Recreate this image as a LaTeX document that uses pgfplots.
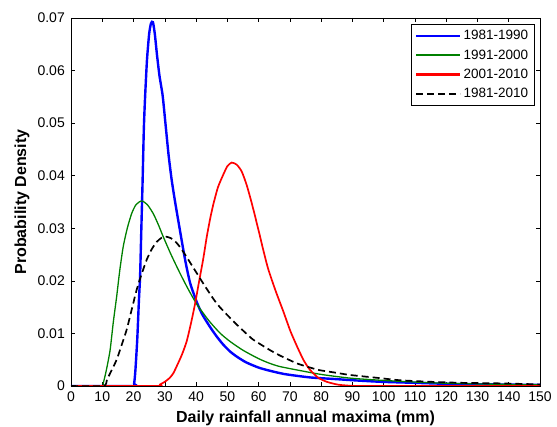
\documentclass[border=0pt]{standalone}
\usepackage{fontspec}
\setmainfont{Liberation Sans}
\usepackage{pgfplots}
\pgfplotsset{compat=1.18}
\definecolor{mgreen}{RGB}{0,128,0}
\definecolor{mred}{RGB}{255,0,0}
\definecolor{mblue}{RGB}{0,0,255}
\begin{document}
\begin{tikzpicture}
\begin{axis}[
  scale only axis,
  width=469pt, height=368pt,
  xmin=0, xmax=150, ymin=0, ymax=0.07,
  xtick={0,10,...,150},
  ytick={0,0.01,0.02,0.03,0.04,0.05,0.06,0.07},
  yticklabels={0,0.01,0.02,0.03,0.04,0.05,0.06,0.07},
  scaled y ticks=false,
  /pgf/number format/assume math mode=true,
  tick label style={font=\fontsize{14}{16}\selectfont, inner sep=1pt},
  xticklabel style={yshift=-5pt},
  yticklabel style={xshift=-5pt},
  tick align=inside,
  major tick length=4pt,
  axis line style={line width=0.6pt},
  every tick/.style={line width=0.6pt, black},
  xlabel={Daily rainfall annual maxima (mm)},
  ylabel={Probability Density},
  label style={font=\fontsize{16}{18}\selectfont\bfseries},
  xlabel style={at={(axis description cs:0.5,-0.087)}, anchor=center},
  ylabel style={at={(axis description cs:-0.1045,0.5)}, anchor=center},
  legend cell align=left,
  legend style={at={(axis description cs:0.988,0.984)}, anchor=north east,
    font=\fontsize{13.5}{15}\selectfont,
    draw=black, line width=0.6pt, row sep=4.5pt, inner xsep=4pt, inner ysep=4pt},
]
\addlegendimage{legend image code/.code={\draw[draw=mblue, line width=2.2pt] (0pt,0pt) -- (44pt,0pt);}}
\addlegendentry{1981-1990}
\addlegendimage{legend image code/.code={\draw[draw=mgreen, line width=2.2pt] (0pt,0pt) -- (44pt,0pt);}}
\addlegendentry{1991-2000}
\addlegendimage{legend image code/.code={\draw[draw=mred, line width=2.2pt] (0pt,0pt) -- (44pt,0pt);}}
\addlegendentry{2001-2010}
\addlegendimage{legend image code/.code={\draw[draw=black, line width=2.2pt, dash pattern=on 7pt off 4pt] (0pt,0pt) -- (44pt,0pt);}}
\addlegendentry{1981-2010}
\addplot[mblue, line width=2.4pt, smooth, tension=0.4, forget plot] coordinates {
(0,0) (19.8,0) (20.2,0.0005) (20.6,0.003) (21.2,0.009) (21.7,0.016) (22.1,0.021)
(22.5,0.030) (22.9,0.039) (23.3,0.049) (23.7,0.055) (24.3,0.062) (25.0,0.067)
(25.6,0.069) (26.2,0.0692) (26.8,0.067) (27.5,0.063) (28.3,0.059) (29.3,0.0553)
(30.1,0.0506) (31.2,0.044) (32.2,0.0392) (33.3,0.035) (34.5,0.0308) (36.5,0.0240)
(38.1,0.0196) (40.2,0.0160) (42,0.0136) (44.5,0.0112) (46.5,0.0095) (48.5,0.0080)
(50.8,0.0066) (53,0.0056) (56,0.0045) (60,0.0035) (63.6,0.0029) (68,0.0023)
(72.7,0.0019) (77,0.0016) (85,0.0013) (90,0.0011) (99,0.0008) (110,0.0006)
(121,0.0004) (135,0.0003) (150,0.0002)
};
\addplot[mgreen, line width=1.3pt, smooth, tension=0.4, forget plot] coordinates {
(0,0) (9.8,0) (10.3,0.0005) (11.3,0.003) (12.5,0.0068) (13.5,0.012) (14.6,0.017)
(15.6,0.022) (16.7,0.0265) (18,0.030) (19.4,0.0328) (20.8,0.0345) (22.6,0.0352)
(24.4,0.0345) (26.3,0.0328) (28,0.0306) (29.5,0.0284) (32,0.0250) (34.9,0.0214)
(37.5,0.0184) (40.2,0.0156) (44,0.0125) (47.6,0.0101) (50.8,0.0085)
(55,0.0068) (60,0.0052) (63.6,0.0043) (66.8,0.0037) (72.7,0.0030) (80,0.0022)
(89.2,0.0015) (98.8,0.0011) (105,0.0009) (115.8,0.0006) (130,0.0004) (150,0.0002)
};
\addplot[mred, line width=1.7pt, smooth, tension=0.4, forget plot] coordinates {
(0,0) (27,0) (28.5,0.0003) (30,0.0008) (31.5,0.0015) (32.7,0.0024) (34,0.0040)
(35.5,0.006) (37.0,0.0085) (38.4,0.012) (39.7,0.0157) (41,0.020) (42.3,0.0242)
(43.4,0.0283) (44.5,0.0318) (45.5,0.0345) (47,0.0378) (48.7,0.0402) (50,0.0418)
(51.4,0.0425) (53,0.0421) (54.6,0.0408) (56.2,0.0382) (57.8,0.0348) (59.2,0.0315)
(60.4,0.0286) (61.6,0.0256) (63.1,0.0222) (65.5,0.0180) (67.9,0.0142) (70.2,0.0104)
(72.7,0.0070) (74.5,0.0048) (76.4,0.0031) (79,0.0016) (81.8,0.0008) (85,0.0003)
(88,0.0001) (95,0) (150,0)
};
\addplot[black, line width=1.7pt, dash pattern=on 7pt off 4pt, smooth, tension=0.4, forget plot] coordinates {
(0,0) (10.3,0) (11.5,0.0012) (13,0.003) (14.6,0.005) (16.2,0.0078) (17.8,0.0107)
(19.4,0.0145) (21.0,0.0183) (22.6,0.0213) (24.2,0.024) (25.8,0.026) (27.4,0.0274)
(29,0.0282) (30.4,0.0284) (32,0.0281) (33.5,0.0274) (34.9,0.0264) (36.8,0.0247)
(38.6,0.0230) (40.5,0.0212) (42.3,0.0195) (45.5,0.0166) (47.6,0.0150) (50.8,0.0130)
(53.5,0.0114) (56.2,0.0099) (58.3,0.0088) (61.5,0.0076) (64,0.0067) (66.8,0.0058)
(70,0.0049) (72.7,0.0042) (76.5,0.0035) (79.6,0.0030) (85,0.0025) (89.2,0.0021)
(98.8,0.0015) (105,0.0011) (115,0.0008) (125,0.0006) (137,0.0005) (150,0.0003)
};
\end{axis}
\pgfresetboundingbox
\path (current axis.south west) ++(-71pt,-41pt) coordinate (bbA);
\path (current axis.north east) ++(17pt,18pt) coordinate (bbB);
\useasboundingbox (bbA) rectangle (bbB);
\end{tikzpicture}
\end{document}
